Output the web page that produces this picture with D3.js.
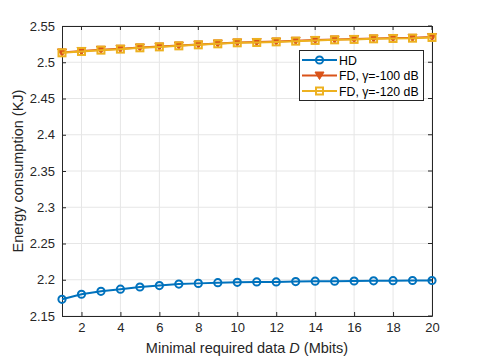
<!DOCTYPE html>
<html><head><meta charset="utf-8">
<script src="https://cdn.jsdelivr.net/npm/d3@7"></script>
<style>body{margin:0;background:#fff}svg{font-family:"Liberation Sans",Arial,sans-serif}</style>
</head><body><svg id="c" width="478" height="358"></svg>
<script>
const xData = d3.range(1, 21);
const hd = [2.173,2.180,2.184,2.187,2.190,2.192,2.194,2.195,2.196,2.1965,2.197,2.197,2.1975,2.198,2.198,2.1983,2.1985,2.1987,2.199,2.199];
const fd100 = [2.5135,2.5154,2.5172,2.5186,2.5204,2.5217,2.5231,2.5245,2.5259,2.5273,2.5278,2.5286,2.5296,2.5306,2.5314,2.5320,2.5328,2.5333,2.5337,2.5347];
const fd120 = [2.5130,2.5149,2.5167,2.5181,2.5199,2.5212,2.5226,2.5240,2.5254,2.5268,2.5273,2.5281,2.5291,2.5301,2.5309,2.5315,2.5323,2.5328,2.5332,2.5342];
const xTicks = [2,4,6,8,10,12,14,16,18,20];
const yTicks = [2.15,2.2,2.25,2.3,2.35,2.4,2.45,2.5,2.55];
const seriesNames = ["HD","FD, γ=-100 dB","FD, γ=-120 dB"];
const colors = ["#0072BD","#D95319","#EDB120"];

const svg = d3.select("#c");
const L=62,R=432,T=26,B=316;
const x = d3.scaleLinear().domain([1,20]).range([L,R]);
const y = d3.scaleLinear().domain([2.15,2.55]).range([B,T]);

// grid
svg.append("g").selectAll("line").data(xTicks).join("line")
  .attr("x1",d=>x(d)).attr("x2",d=>x(d)).attr("y1",T).attr("y2",B)
  .attr("stroke","#e6e6e6").attr("stroke-width",1);
svg.append("g").selectAll("line").data(yTicks).join("line")
  .attr("x1",L).attr("x2",R).attr("y1",d=>y(d)).attr("y2",d=>y(d))
  .attr("stroke","#e6e6e6").attr("stroke-width",1);

// axes
const fmt = v => String(+v.toFixed(2));
const xa = svg.append("g").attr("transform",`translate(0,${B})`)
  .call(d3.axisBottom(x).tickValues(xTicks).tickSize(-4).tickPadding(7).tickFormat(d3.format("d")));
const ya = svg.append("g").attr("transform",`translate(${L},0)`)
  .call(d3.axisLeft(y).tickValues(yTicks).tickSize(-4).tickPadding(7).tickFormat(fmt));
[xa,ya].forEach(a=>{
  a.select(".domain").attr("stroke","#262626");
  a.selectAll(".tick line").attr("stroke","#262626");
  a.selectAll("text").attr("fill","#262626").style("font-size","13px").style("font-family","Liberation Sans, Arial, sans-serif");
});
// right ticks and top ticks
svg.append("g").selectAll("line").data(yTicks).join("line")
  .attr("x1",R).attr("x2",R-4).attr("y1",d=>y(d)).attr("y2",d=>y(d)).attr("stroke","#262626");
svg.append("g").selectAll("line").data(xTicks).join("line")
  .attr("x1",d=>x(d)).attr("x2",d=>x(d)).attr("y1",T).attr("y2",T+4).attr("stroke","#262626");
svg.append("line").attr("x1",L).attr("x2",R).attr("y1",T+0.5).attr("y2",T+0.5).attr("stroke","#262626");
svg.append("line").attr("x1",R+0.5).attr("x2",R+0.5).attr("y1",T).attr("y2",B).attr("stroke","#262626");

const line = d3.line().x((d,i)=>x(xData[i])).y(d=>y(d));
const all = [hd,fd100,fd120];
const markers = ["circle","tri","square"];
function drawMarker(g,type,cx,cy,col){
  if(type==="circle") g.append("circle").attr("cx",cx).attr("cy",cy).attr("r",3.6).attr("fill","none").attr("stroke",col).attr("stroke-width",2);
  else if(type==="tri") g.append("path").attr("d",`M${cx-4.5},${cy-3.5}L${cx+4.5},${cy-3.5}L${cx},${cy+4}Z`).attr("fill",col).attr("stroke",col).attr("stroke-width",1);
  else g.append("rect").attr("x",cx-3.5).attr("y",cy-3.5).attr("width",7).attr("height",7).attr("fill","none").attr("stroke",col).attr("stroke-width",2);
}
all.forEach((s,k)=>{
  svg.append("path").datum(s).attr("d",line).attr("fill","none").attr("stroke",colors[k]).attr("stroke-width",2);
  const g = svg.append("g");
  s.forEach((v,i)=>drawMarker(g,markers[k],x(xData[i]),y(v),colors[k]));
});

// labels
svg.append("text").attr("x",(L+R)/2).attr("y",353).attr("text-anchor","middle")
  .attr("fill","#262626").style("font-size","14.5px")
  .html('Minimal required data <tspan font-style="italic">D</tspan> (Mbits)');
svg.append("text").attr("transform",`translate(23,${(T+B)/2}) rotate(-90)`).attr("text-anchor","middle")
  .attr("fill","#262626").style("font-size","14.5px").text("Energy consumption (KJ)");

// legend
const lg = svg.append("g");
lg.append("rect").attr("x",299.5).attr("y",50.5).attr("width",124).attr("height",50)
  .attr("fill","#fff").attr("stroke","#262626").attr("stroke-width",1);
seriesNames.forEach((n,k)=>{
  const yy = 60 + k*15.5;
  lg.append("line").attr("x1",302).attr("x2",337).attr("y1",yy).attr("y2",yy).attr("stroke",colors[k]).attr("stroke-width",2);
  drawMarker(lg,markers[k],319.5,yy,colors[k]);
  lg.append("text").attr("x",339).attr("y",yy+4.5).attr("fill","#000").style("font-size","12.3px").text(n);
});
</script></body></html>
